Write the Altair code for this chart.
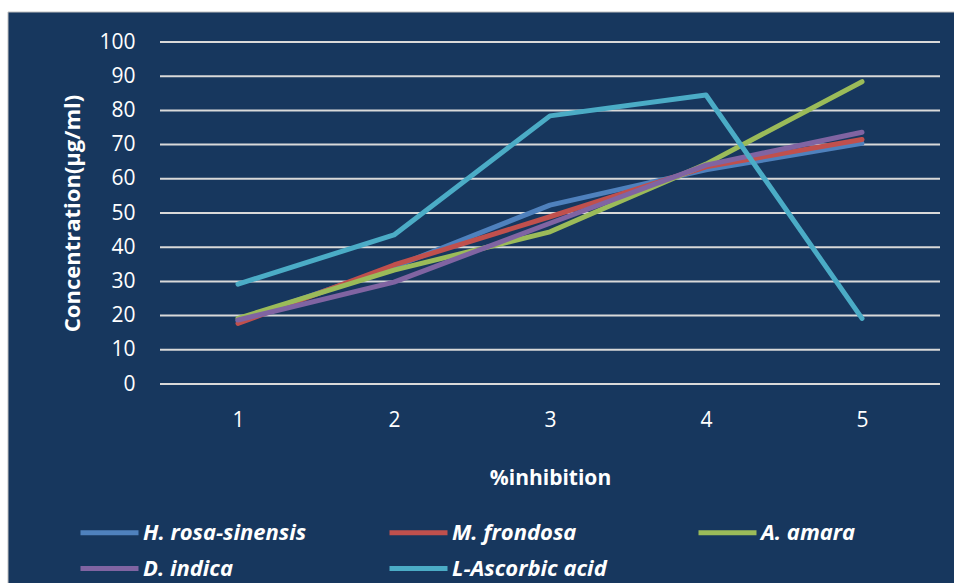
import altair as alt
import pandas as pd

# Concentration (µg/ml) read at each %inhibition level
levels = [1, 2, 3, 4, 5]
series_names = ["H. rosa-sinensis", "M. frondosa", "A. amara", "D. indica", "L-Ascorbic acid"]
h_rosa_sinensis = [18.5, 34.2, 52.3, 62.6, 70.4]
m_frondosa = [17.7, 34.8, 48.9, 63.5, 71.5]
a_amara = [19.2, 33.3, 44.5, 64.3, 88.4]
d_indica = [18.7, 29.8, 47.0, 64.0, 73.6]
l_ascorbic = [29.2, 43.6, 78.4, 84.5, 19.2]
y_ticks = [0, 10, 20, 30, 40, 50, 60, 70, 80, 90, 100]

series_colors = ["#4F81BD", "#C0504D", "#9BBB59", "#8064A2", "#4BACC6"]
panel_color = "#17375E"
text_font = "Open Sans"

rows = []
for name, values in zip(series_names, [h_rosa_sinensis, m_frondosa, a_amara, d_indica, l_ascorbic]):
    for lvl, v in zip(levels, values):
        rows.append({"series": name, "level": lvl, "conc": v, "order": series_names.index(name)})
df = pd.DataFrame(rows)
grid_df = pd.DataFrame({"tick": y_ticks})

W, H = 780, 342

# dark panel behind the whole chart
panel = alt.Chart(grid_df).mark_rect(
    fill=panel_color, stroke="#BFBFBF", strokeWidth=1
).encode(
    x=alt.value(-152), x2=alt.value(800), y=alt.value(-30), y2=alt.value(548)
).transform_filter("datum.tick == 0")

y_scale = alt.Scale(domain=[0, 100], nice=False)
y_axis = alt.Axis(
    title="Concentration(µg/ml)",
    values=y_ticks,
    grid=False,
    domain=False,
    ticks=False,
    zindex=1,
    labelOverlap=False,
    labelPadding=25,
    labelFontSize=21,
    labelColor="white",
    labelFont=text_font,
    titleFont=text_font,
    titleFontSize=22,
    titleFontWeight="bold",
    titleColor="white",
    titlePadding=14,
)

# horizontal gridlines, one per tick value
grid = alt.Chart(grid_df).mark_rule(color="#D9D9D9", strokeWidth=2).encode(
    y=alt.Y("tick:Q", scale=y_scale, axis=y_axis),
    x=alt.value(0),
    x2=alt.value(W),
)

lines = alt.Chart(df).mark_line(strokeWidth=5, strokeCap="round", strokeJoin="round").encode(
    x=alt.X(
        "level:O",
        axis=alt.Axis(
            title="%inhibition",
            labelAngle=0,
            domain=False,
            ticks=False,
            zindex=1,
            labelPadding=25,
            labelFontSize=21,
            labelColor="white",
            labelFont=text_font,
            titleFont=text_font,
            titleFontSize=21,
            titleFontWeight="bold",
            titleColor="white",
            titlePadding=37,
        ),
    ),
    y=alt.Y("conc:Q", scale=y_scale, axis=y_axis),
    color=alt.Color(
        "series:N",
        scale=alt.Scale(domain=series_names, range=series_colors),
        legend=alt.Legend(
            title=None,
            orient="none",
            legendX=-63,
            legendY=478,
            direction="horizontal",
            columns=3,
            gridAlign="all",
            columnPadding=72,
            rowPadding=12,
            # short horizontal stroke, 58 px long at size 400
            symbolType="M-2.9,0H2.9",
            symbolSize=400,
            symbolStrokeWidth=5,
            labelOffset=21,
            labelFont=text_font,
            labelFontSize=22,
            labelFontWeight="bold",
            labelFontStyle="italic",
            labelColor="white",
            labelLimit=300,
        ),
    ),
    order="order:Q",
    detail="series:N",
)

chart = alt.layer(panel, grid, lines).properties(
    width=W,
    height=H,
    autosize=alt.AutoSizeParams(type="none"),
    padding={"left": 160, "top": 42, "right": 14, "bottom": 199},
).configure(background="white").configure_view(stroke=None)

chart.save("out.html", embed_options={"renderer": "svg", "actions": False})
